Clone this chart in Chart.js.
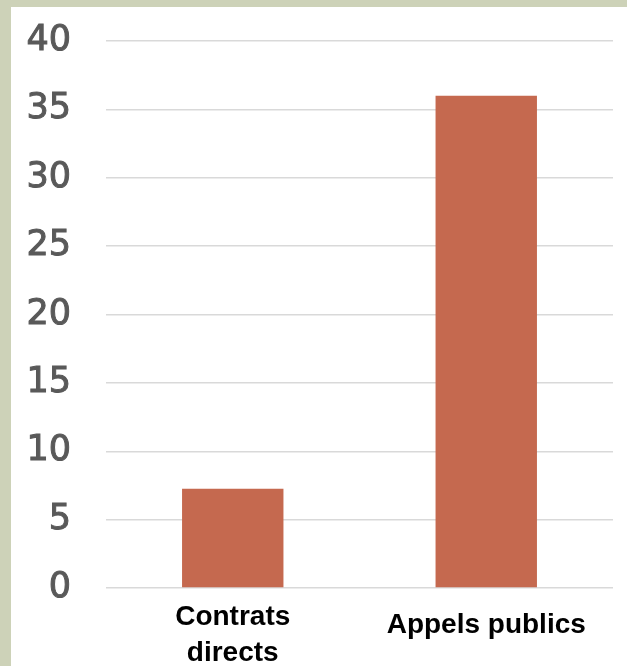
<!DOCTYPE html>
<html>
<head>
<meta charset="utf-8">
<script src="https://cdn.jsdelivr.net/npm/chart.js@4"></script>
<style>
  html, body { margin: 0; padding: 0; }
  body { width: 627px; height: 666px; background: #cdd2b8; position: relative; overflow: hidden; }
  .frame { position: absolute; left: 11px; top: 7px; width: 616px; height: 659px; background: #fff; }
</style>
</head>
<body>
<div class="frame"><canvas id="chart" width="616" height="659"></canvas></div>
<script>
// ===== DATA =====
const categories = [["Contrats", "directs"], "Appels publics"]
const values     = [7.25, 36]
const yTicks     = [0, 5, 10, 15, 20, 25, 30, 35, 40]

const barColor  = "#c5694f"
const gridColor = "#d9d9d9"
const tickGray  = "#595959"

// ===== CHART =====
const ctx = document.getElementById("chart").getContext("2d")
new Chart(ctx, {
  type: "bar",
  data: {
    labels: categories,
    datasets: [{
      data: values,
      backgroundColor: barColor,
      borderWidth: 0,
      categoryPercentage: 1,
      barPercentage: 0.4
    }]
  },
  options: {
    responsive: false,
    animation: false,
    layout: { padding: { left: 15, top: 34, right: 14, bottom: 1 } },
    plugins: { legend: { display: false }, tooltip: { enabled: false } },
    scales: {
      x: {
        grid: { display: false },
        border: { display: false },
        afterFit: axis => { axis.height = 77; axis.paddingLeft = 0; axis.paddingRight = 0 },
        ticks: {
          color: "#000",
          padding: 3,
          maxRotation: 0,
          autoSkip: false,
          // single-line label sits a bit lower, like the original
          font: c => ({
            family: "'Liberation Sans', Arial, sans-serif",
            size: 28, weight: "bold",
            lineHeight: c.index === 1 ? 52 / 28 : 36 / 28
          })
        }
      },
      y: {
        min: yTicks[0],
        max: yTicks[yTicks.length - 1],
        afterBuildTicks: axis => { axis.ticks = yTicks.map(v => ({ value: v })) },
        afterFit: axis => { axis.width = 80; axis.paddingTop = 0; axis.paddingBottom = 0 },
        grid: { color: gridColor, lineWidth: 1.5, drawTicks: false },
        border: { display: false },
        ticks: {
          color: tickGray,
          textStrokeColor: tickGray,
          textStrokeWidth: 1,
          padding: 35,
          font: { family: "'DejaVu Sans', sans-serif", size: 35, lineHeight: 1.2 }
        }
      }
    }
  }
})
</script>
</body>
</html>
